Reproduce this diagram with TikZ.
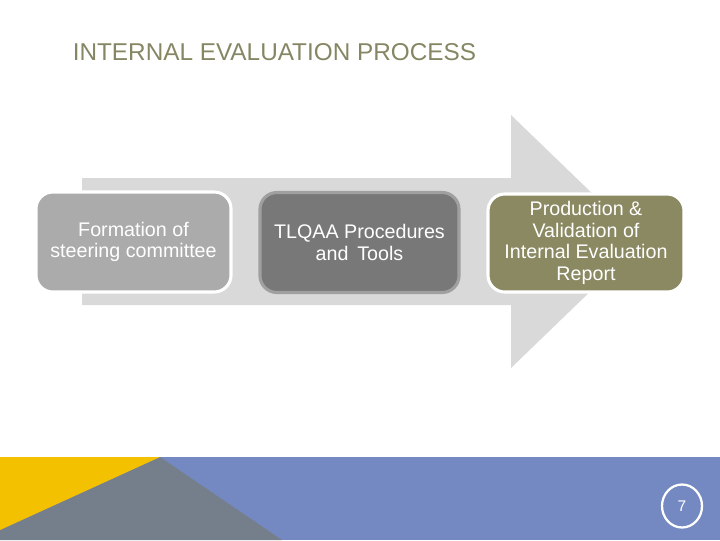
\documentclass[tikz,border=0pt]{standalone}
\usepackage{fontspec}
\setmainfont{Liberation Sans}
\usepackage{tikz}

\definecolor{titleolive}{RGB}{134,134,100}
\definecolor{boxolive}{RGB}{138,137,98}
\definecolor{arrowgray}{RGB}{217,217,217}
\definecolor{lightbox}{RGB}{171,171,171}
\definecolor{darkbox}{RGB}{120,120,120}
\definecolor{darkedge}{RGB}{160,160,160}
\definecolor{bandblue}{RGB}{116,137,194}
\definecolor{bandyellow}{RGB}{243,193,0}
\definecolor{bandgray}{RGB}{117,127,140}

\tikzset{
  stepbox/.style={rounded corners=12, draw=white, line width=2.2,
    minimum width=4.875cm, minimum height=2.5cm, align=center, text=white,
    inner sep=1pt, font=\fontsize{14}{15.3}\selectfont}
}

\begin{document}
\begin{tikzpicture}[x=0.025cm, y=-0.025cm]
    \useasboundingbox (0, 0) rectangle (720, 540);
    % title
    \node[anchor=west, inner sep=0, text=titleolive,
      font=\fontsize{17.3}{20}\selectfont] (title) at (72.5, 52)
      {INTERNAL EVALUATION PROCESS};
    % big arrow behind the steps
    \fill[arrowgray] (82, 178) -- (511, 178) -- (511, 115) -- (642, 241.5)
      -- (511, 368) -- (511, 305) -- (82, 305) -- cycle;
    % the three steps
    \node[stepbox, fill=lightbox] (formation) at (133.5, 242)
      {Formation of\\steering committee};
    \node[stepbox, fill=darkbox, draw=darkedge, minimum width=4.975cm]
      (tools) at (359.5, 242.5) {TLQAA Procedures\\and\, Tools};
    \node[stepbox, fill=boxolive, minimum width=4.9cm, minimum height=2.45cm]
      (report) at (586, 243)
      {Production \&\\Validation of\\Internal Evaluation\\Report};
    % bottom band
    \fill[bandblue] (0, 457) rectangle (720, 540);
    \fill[bandgray] (160, 457) -- (282, 540) -- (0, 540) -- (0, 530) -- cycle;
    \fill[bandyellow] (0, 457) -- (160, 457) -- (0, 530) -- cycle;
    \draw[white, line width=1.6] (682, 506) ellipse (20 and 21.5);
    \node[text=white, font=\fontsize{11}{12}\selectfont] (page) at (682, 506) {7};
\end{tikzpicture}
\end{document}
